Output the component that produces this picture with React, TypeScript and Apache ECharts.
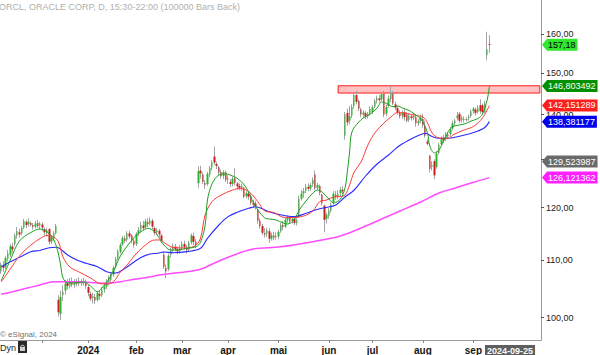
import React, { useEffect, useRef } from "react";
import * as echarts from "echarts";

const TITLE = "ORCL, ORACLE CORP, D, 15:30-22:00 (100000 Bars Back)";
const FIRST_DATE = "2023-11-06";
const HOLIDAYS = ["2023-11-23", "2023-12-25", "2024-01-01", "2024-01-15", "2024-02-19", "2024-03-29", "2024-05-27", "2024-06-19", "2024-07-04", "2024-09-02", "2024-11-28"];
const PAD_BARS = 22;

// [open, close, low, high]
const OHLC: number[][] = [
  [108.0,109.2,107.5,109.6],[109.0,108.6,107.9,109.8],[108.8,110.4,108.4,110.8],[110.3,111.2,109.8,111.9],[111.0,112.6,110.6,113.0],
  [112.5,112.0,111.4,113.2],[113.0,114.6,112.6,115.0],[114.6,115.4,114.0,116.2],[115.2,114.8,114.2,115.9],[115.0,116.0,114.6,116.4],
  [116.1,117.4,115.8,117.8],[117.2,116.6,116.0,117.6],[116.8,117.2,116.3,117.9],[117.0,116.6,116.3,117.3],[116.6,116.2,115.7,117.0],
  [116.3,116.9,115.9,117.4],[117.0,116.4,116.0,117.6],[116.5,116.9,115.8,117.2],
  [116.7,116.1,115.4,117.1],[115.8,115.2,114.6,116.1],[115.0,115.6,114.4,116.0],[115.8,113.4,112.9,116.0],[113.5,114.2,113.0,114.6],
  [114.0,115.0,113.6,115.4],[115.0,116.4,114.8,116.8],[103.0,100.9,100.2,103.8],[100.6,103.5,99.6,104.6],[103.8,104.4,102.8,105.5],
  [104.6,105.8,103.9,106.4],[105.9,105.4,104.8,106.6],[105.4,106.2,105.0,106.8],[106.2,105.6,105.2,106.9],[105.6,106.0,105.1,106.6],
  [106.1,105.8,105.3,106.7],[105.8,106.3,105.4,106.9],[106.2,105.9,105.4,106.6],[105.9,106.1,105.5,106.8],[106.0,105.4,104.9,106.5],
  [105.2,104.2,103.6,105.6],[104.0,103.2,102.8,104.4],[103.3,103.6,102.4,104.2],[103.5,102.9,102.3,104.0],[103.0,104.2,102.7,104.5],
  [104.0,103.7,103.0,104.6],[103.8,104.8,103.5,105.2],[104.8,105.3,104.2,105.8],[105.3,106.1,104.9,106.6],[106.0,106.8,105.5,107.2],
  [106.5,107.4,106.0,107.8],[107.4,108.6,107.0,109.0],[108.8,110.2,108.5,110.6],[110.3,111.6,110.0,112.0],[111.5,112.8,111.2,113.2],
  [112.9,114.1,112.6,114.5],[114.0,113.6,113.2,114.6],[113.8,115.0,113.4,115.4],[115.0,114.4,114.0,115.5],[114.6,113.6,113.1,114.9],
  [113.6,112.8,112.3,114.0],
  [113.0,114.9,112.6,115.2],[115.0,115.6,114.5,116.2],[115.7,116.6,115.2,117.2],[116.5,116.0,115.5,117.4],[116.2,117.3,115.8,117.8],
  [117.2,116.8,116.2,117.9],[116.9,117.5,116.5,118.1],[117.4,116.3,115.8,117.8],[116.0,115.1,114.6,116.3],[115.2,115.6,114.6,116.0],
  [115.5,114.8,114.2,115.8],[114.6,113.6,113.2,114.9],[111.0,108.8,108.4,111.6],[108.6,108.0,106.8,109.2],[108.4,110.8,108.0,111.2],
  [111.0,111.8,110.5,112.3],[111.8,112.6,111.3,113.1],[112.5,112.0,111.6,113.0],[112.0,111.6,111.1,112.5],[111.7,112.3,111.2,112.8],
  [112.4,113.0,111.9,113.5],[113.0,112.4,111.9,113.6],[112.3,111.8,111.2,112.8],[111.9,113.2,111.5,113.6],[113.3,114.6,112.9,115.0],
  [114.5,113.4,112.8,115.1],[113.4,112.8,112.2,113.9],[125.0,127.5,124.0,128.5],[127.6,127.0,125.9,128.6],[126.8,125.2,124.8,127.2],
  [125.0,124.6,123.8,125.6],[124.8,126.9,124.4,127.3],[126.8,128.2,126.2,128.6],[128.3,129.4,127.6,129.8],[130.6,129.3,128.8,132.8],
  [129.0,128.6,127.9,129.5],[128.3,127.2,126.6,128.6],[127.3,126.4,125.9,127.8],[126.5,127.3,125.8,127.7],[127.2,125.6,125.2,127.6],
  [125.8,126.0,124.8,126.6],[125.2,124.8,124.2,125.8],[124.8,125.9,124.3,126.3],[126.0,125.0,124.5,128.1],[124.9,124.3,123.6,125.2],
  [124.4,124.0,123.5,124.9],[124.0,124.4,123.4,124.9],[124.0,122.2,121.9,124.2],[122.3,122.9,121.8,123.3],[122.8,122.2,121.6,123.2],
  [122.4,121.0,120.5,122.8],[121.0,120.6,119.9,121.6],[120.8,120.2,119.6,121.4],[119.6,117.4,116.9,119.8],[117.4,116.4,115.9,117.9],
  [116.4,115.1,114.7,116.8],[115.0,114.8,114.2,116.0],[114.9,115.6,114.3,116.1],[115.4,114.0,113.2,116.0],[114.0,114.6,113.6,115.1],
  [114.6,114.2,113.7,115.3],[114.3,114.5,113.8,115.2],
  [114.4,115.3,113.9,115.7],[115.4,116.6,115.1,117.0],[116.6,116.2,115.6,117.4],[116.3,117.6,116.0,118.0],[117.6,118.1,117.0,118.5],
  [118.0,117.3,116.8,118.3],[117.4,117.8,116.9,118.2],[117.8,117.0,116.6,118.1],[117.0,117.5,116.5,118.0],[118.2,121.8,118.0,122.4],
  [121.8,122.8,121.4,123.6],[122.9,123.3,122.0,124.0],[123.4,124.2,122.9,124.8],[124.2,123.8,123.3,124.9],[123.9,124.6,123.4,125.0],
  [124.8,125.6,124.2,126.2],[126.8,123.9,123.5,127.6],[124.0,124.6,123.5,125.0],[124.4,123.0,122.5,124.7],[122.6,120.9,120.4,122.8],
  [120.4,117.6,115.2,120.6],[117.8,118.6,116.9,119.0],
  [118.4,119.4,117.8,119.9],[119.4,120.6,119.0,121.0],[121.0,122.8,120.6,123.3],[122.6,122.3,121.6,123.4],[122.2,122.8,121.7,123.5],
  [122.9,123.6,122.3,124.2],[123.6,123.3,122.7,124.4],[135.2,140.0,134.3,140.6],[140.4,138.2,137.4,141.4],[138.6,139.6,137.8,142.0],
  [139.8,141.8,139.2,142.4],[142.0,144.6,141.4,145.3],[144.6,143.0,142.4,145.6],[143.2,141.4,140.8,143.6],[141.2,140.0,139.4,141.6],
  [140.0,140.5,139.2,141.0],[140.3,139.6,139.0,140.8],[139.6,140.2,139.1,140.6],[140.2,141.3,139.8,141.9],
  [140.6,141.7,140.1,142.2],[141.9,143.2,141.5,143.7],[143.3,143.9,142.6,144.5],[143.8,143.4,142.8,144.6],[143.6,144.8,143.2,145.3],
  [145.0,140.0,139.4,145.6],[140.2,141.8,139.6,142.4],[142.0,143.8,141.6,144.5],[143.6,145.0,142.9,146.8],[145.0,142.6,142.2,145.6],
  [142.4,141.6,141.0,143.0],[141.5,140.6,140.0,142.0],[140.4,139.6,139.1,141.0],[139.8,140.4,139.0,141.0],[140.6,139.4,138.6,141.2],
  [140.0,138.6,138.2,140.6],[138.8,139.8,138.3,140.3],[139.6,139.2,138.6,140.2],[139.3,139.7,138.7,140.4],[139.4,138.0,137.2,139.7],
  [138.0,138.5,137.4,139.0],[138.6,139.4,138.0,140.0],
  [139.0,137.6,137.0,140.2],[137.4,135.2,134.8,138.6],[133.9,133.4,133.0,134.4],[130.8,128.0,127.2,131.0],[128.4,128.8,127.6,129.6],
  [129.6,126.6,125.8,130.0],[128.4,131.2,128.0,131.8],[131.4,133.2,131.0,133.6],[133.3,134.4,133.0,135.0],[134.6,134.2,133.6,135.4],
  [134.4,135.4,134.0,136.0],[135.4,135.0,134.4,136.0],[135.6,136.6,135.0,137.2],[136.8,138.0,136.4,138.6],[138.0,138.6,137.4,139.0],
  [139.2,139.8,138.6,140.6],[140.2,138.6,138.0,140.6],[138.8,139.2,138.2,139.8],[139.0,138.8,138.2,139.6],[138.8,139.0,138.4,139.4],
  [139.2,139.5,138.6,140.0],[139.6,140.8,139.3,141.2],
  [140.8,141.4,140.2,141.8],[141.2,140.4,139.8,141.6],[140.6,141.6,140.2,142.2],[142.2,140.8,140.2,143.6],[142.2,140.6,140.0,142.6],
  [140.6,142.6,140.2,143.2],[154.5,156.0,153.2,160.6],[157.4,157.18,155.1,159.7],
];

// moving averages: [bar index, value]
const MA_GREEN: number[][] = [[0,106.27],[4,110.03],[8,113.55],[13,115.16],[17,115.83],[20,115.31],[23,113.74],[25,111.13],[26,108.94],[27,106.8],[29,105.92],[31,105.92],[36,106.09],[39,105.39],[42,104.4],[44,105.04],[47,106.62],[50,108.94],[52,110.76],[55,112.61],[58,114.21],[61,115.31],[64,115.96],[67,115.31],[69,114.06],[71,112.8],[74,111.87],[77,111.87],[81,112.19],[85,112.48],[87,113.36],[89,116.6],[90,121.53],[92,124.8],[95,126.67],[98,126.88],[101,126.46],[104,125.63],[107,123.97],[109,121.93],[112,119.53],[115,117.96],[117,117.77],[120,117.57],[123,116.99],[125,116.79],[128,117.77],[130,119.53],[133,121.33],[136,122.95],[138,123.56],[140,123.15],[143,121.73],[145,120.93],[148,121.73],[150,123.97],[151,127.3],[152,131.59],[153,136.02],[156,138.3],[158,139.22],[161,140.14],[164,141.54],[166,142.96],[168,142.65],[171,141.85],[173,142.01],[175,141.54],[178,140.96],[180,140.26],[182,139.52],[184,138.3],[186,135.8],[187,132.91],[189,131.37],[191,132.03],[193,134.01],[195,136.09],[197,137.22],[200,137.61],[203,138.0],[205,138.52],[208,139.1],[210,140.14],[212,143.43],[213,146.80]];
const MA_RED: number[][] = [[0,106.09],[4,108.4],[8,110.76],[13,112.8],[17,114.02],[20,114.59],[23,114.3],[25,113.36],[27,110.58],[30,108.76],[34,107.86],[39,106.8],[43,105.83],[46,105.74],[49,106.15],[52,107.86],[55,109.12],[58,110.76],[63,112.8],[67,113.74],[69,113.74],[72,112.99],[75,112.33],[81,112.24],[85,112.8],[87,114.12],[89,118.55],[92,121.19],[96,122.54],[101,123.56],[104,123.87],[108,123.26],[112,121.19],[115,119.34],[119,119.04],[122,118.25],[124,118.06],[127,118.06],[132,118.35],[136,119.34],[139,121.23],[142,121.53],[145,122.14],[148,122.24],[150,122.54],[152,124.59],[154,127.3],[157,129.43],[160,133.13],[163,135.8],[167,138.07],[170,139.45],[173,140.49],[177,140.26],[181,139.79],[184,139.45],[186,138.07],[188,135.8],[191,134.68],[195,134.57],[197,135.35],[202,136.48],[206,137.27],[210,139.22],[213,142.15]];
const MA_BLUE: number[][] = [[0,108.82],[4,109.72],[8,110.51],[13,111.56],[17,111.78],[21,112.3],[24,112.39],[29,110.95],[33,110.03],[37,109.43],[42,108.82],[46,107.92],[50,107.69],[54,108.53],[58,109.67],[61,110.49],[65,111.13],[68,111.26],[71,111.5],[75,111.37],[81,111.56],[87,112.19],[90,114.06],[95,116.6],[99,118.22],[103,119.08],[108,119.87],[111,120.19],[115,119.53],[119,118.88],[124,118.41],[128,118.22],[133,118.88],[137,119.53],[141,119.99],[146,120.53],[150,122.14],[154,123.56],[159,126.46],[164,129.0],[169,130.94],[173,132.69],[178,134.23],[182,135.24],[185,135.73],[188,135.01],[191,134.61],[195,134.61],[199,134.97],[204,135.57],[208,136.25],[211,137.04],[213,138.38]];
const MA_MAGENTA: number[][] = [[0,103.95],[5,104.4],[11,104.99],[17,105.57],[23,106.15],[29,106.15],[34,106.15],[40,105.97],[46,105.87],[52,106.15],[58,106.57],[64,106.92],[69,107.33],[75,107.63],[81,107.92],[87,108.35],[95,109.85],[104,111.32],[110,112.06],[122,112.48],[136,113.42],[148,114.49],[157,116.02],[165,117.57],[174,119.34],[183,121.13],[191,122.95],[198,123.97],[205,125.0],[213,126.12]];

const Y_TICKS = [100, 110, 120, 130, 140, 150, 160];
const Y_MIN = 96.37;
const Y_MAX = 169.28;
const MONTH_LABELS = ["2024", "feb", "mar", "apr", "mai", "jun", "jul", "aug", "sep", "okt", "nov", "des"];

const TAGS = [
  { value: 157.18, text: "157,18", bg: "#2fe82f", fg: "#000000" },
  { value: 146.803492, text: "146,803492", bg: "#009000", fg: "#ffffff" },
  { value: 142.151289, text: "142,151289", bg: "#ff1e1e", fg: "#ffffff" },
  { value: 138.381177, text: "138,381177", bg: "#0000f0", fg: "#ffffff" },
  { value: 129.523987, text: "129,523987", bg: "#6a6a6a", fg: "#ffffff" },
  { value: 126.121362, text: "126,121362", bg: "#ff20ff", fg: "#ffffff" },
];

const BAND_FROM = 147;
const BAND_LOW = 145.1;
const BAND_HIGH = 146.85;
const CURSOR_DATE = "2024-09-25";

const W = 600;
const H = 355;
const GRID_RIGHT = 59;
const GRID_BOTTOM = 15;

function tradingDays(start: string, count: number, hol: string[]): string[] {
  const out: string[] = [];
  const d = new Date(start + "T00:00:00Z");
  while (out.length < count) {
    const wd = d.getUTCDay();
    const s = d.toISOString().slice(0, 10);
    if (wd !== 0 && wd !== 6 && !hol.includes(s)) out.push(s);
    d.setUTCDate(d.getUTCDate() + 1);
  }
  return out;
}

export default function App() {
  const ref = useRef<HTMLDivElement>(null);

  useEffect(() => {
    if (!ref.current) return;
    const chart = echarts.init(ref.current, null, { renderer: "svg" });
    const L = Math.log;
    const nBars = OHLC.length;
    const cats = tradingDays(FIRST_DATE, nBars + PAD_BARS, HOLIDAYS);
    const monthStart = new Set<number>();
    for (let i = 1; i < nBars; i++) {
      if (cats[i].slice(5, 7) !== cats[i - 1].slice(5, 7)) monthStart.add(i);
    }
    const showLabel = (i: number) => monthStart.has(i) && cats[i].slice(5, 7) !== "12";

    const wickData = OHLC.map(([o, c, l, h]) => [L(o), L(c), L(l), L(h)]);
    const bodyData = OHLC.map(([o, c]) => [L(o), L(c), L(Math.min(o, c)), L(Math.max(o, c))]);
    const toLine = (arr: number[][]) => arr.map(([i, v]) => [i, L(v)]);

    const lineSeries = (name: string, data: number[][], color: string, width: number) => ({
      name,
      type: "line",
      data: toLine(data),
      showSymbol: false,
      symbol: "none",
      smooth: 0.35,
      lineStyle: { color, width },
      z: 4,
      silent: true,
    });

    const option: any = {
      animation: false,
      backgroundColor: "#ffffff",
      grid: { left: 0, right: GRID_RIGHT, top: 0, bottom: GRID_BOTTOM },
      xAxis: {
        type: "category",
        data: cats,
        boundaryGap: true,
        axisLine: { show: true, lineStyle: { color: "#9a9a9a", width: 1 } },
        axisTick: {
          show: true,
          length: 3,
          alignWithLabel: true,
          interval: (i: number) => monthStart.has(i),
          lineStyle: { color: "#8a8a8a" },
        },
        axisLabel: {
          interval: (i: number) => showLabel(i),
          formatter: (v: string) => {
            const m = +v.slice(5, 7);
            return m === 1 ? v.slice(0, 4) : MONTH_LABELS[m - 1];
          },
          color: "#151515",
          fontWeight: "bold",
          fontSize: 10,
          fontFamily: "Arial, 'Liberation Sans', sans-serif",
          margin: 5,
        },
        splitLine: { show: false },
      },
      yAxis: {
        type: "value",
        position: "right",
        min: L(Y_MIN),
        max: L(Y_MAX),
        scale: true,
        axisLine: { show: true, lineStyle: { color: "#9a9a9a", width: 1 } },
        axisTick: { show: true, length: 3, customValues: Y_TICKS.map(L), lineStyle: { color: "#555" } },
        axisLabel: {
          customValues: Y_TICKS.map(L),
          formatter: (v: number) => Math.exp(v).toFixed(2).replace(".", ","),
          color: "#222",
          fontSize: 9,
          fontFamily: "Arial, 'Liberation Sans', sans-serif",
          margin: 5,
        },
        splitLine: { show: false },
      },
      series: [
        {
          name: "wick",
          type: "candlestick",
          data: wickData,
          barWidth: 1,
          z: 2,
          silent: true,
          itemStyle: {
            color: "#a3a3a3",
            color0: "#a3a3a3",
            borderColor: "#a3a3a3",
            borderColor0: "#a3a3a3",
            borderColorDoji: "#a3a3a3",
            borderWidth: 1,
          },
          markArea: {
            silent: true,
            itemStyle: { color: "rgba(255,120,120,0.45)", borderColor: "#ff1a1a", borderWidth: 1 },
            data: [[{ xAxis: BAND_FROM, yAxis: L(BAND_LOW) }, { xAxis: cats.length - 1, yAxis: L(BAND_HIGH) }]],
          },
        },
        {
          name: "body",
          type: "candlestick",
          data: bodyData,
          barWidth: 2,
          z: 3,
          silent: true,
          itemStyle: {
            color: "#2db42d",
            color0: "#c81e1e",
            borderColor: "#2db42d",
            borderColor0: "#c81e1e",
            borderColorDoji: "#8a8a8a",
            borderWidth: 0,
          },
        },
        lineSeries("MA200", MA_MAGENTA, "#ff4cff", 1.5),
        lineSeries("MA50", MA_BLUE, "#2a2aff", 1.1),
        lineSeries("MA20", MA_RED, "#ff3a3a", 1),
        lineSeries("MA5", MA_GREEN, "#1f9f1f", 1),
      ],
    };
    chart.setOption(option);

    const axisX = W - GRID_RIGHT;
    const font = "9px Arial, 'Liberation Sans', sans-serif";
    const tagEls: any[] = [];
    TAGS.forEach((t) => {
      const p = chart.convertToPixel({ gridIndex: 0 } as any, [0, L(t.value)]) as number[];
      const py = p[1];
      tagEls.push({
        type: "polygon",
        shape: { points: [[axisX + 1, py], [axisX + 6, py - 6], [axisX + 6, py + 6]] },
        style: { fill: t.bg },
        z: 100,
      });
      tagEls.push({
        type: "text",
        x: axisX + 6,
        y: py,
        z: 101,
        style: {
          text: t.text,
          font,
          fill: t.fg,
          verticalAlign: "middle",
          backgroundColor: t.bg,
          padding: [1, 2, 1, 1],
          lineHeight: 10,
        },
      });
    });

    const staticEls: any[] = [
      {
        type: "text",
        x: -1,
        y: 2,
        style: { text: TITLE, font, fill: "#b0b0b0", verticalAlign: "top" },
      },
      {
        type: "text",
        x: 0,
        y: 330,
        style: { text: "© eSignal, 2024", font: "8px Arial, 'Liberation Sans', sans-serif", fill: "#707070", verticalAlign: "top" },
      },
      {
        type: "text",
        x: 0,
        y: 343,
        z: 50,
        style: { text: "Dyn", font: "9px Arial, 'Liberation Sans', sans-serif", fill: "#222", verticalAlign: "top" },
      },
      { type: "rect", shape: { x: 18, y: 341, width: 9, height: 12 }, style: { fill: "#2a2a2a" }, z: 50 },
      { type: "rect", shape: { x: 20, y: 347, width: 5, height: 4 }, style: { fill: "#d0d0d0" }, z: 51 },
      {
        type: "arc",
        shape: { cx: 22.5, cy: 347, r: 1.8, startAngle: Math.PI, endAngle: 2 * Math.PI },
        style: { stroke: "#d0d0d0", lineWidth: 1, fill: "none" },
        z: 51,
      },
      {
        type: "text",
        x: 485,
        y: 345,
        z: 60,
        style: {
          text: CURSOR_DATE,
          font: "bold 9px Arial, 'Liberation Sans', sans-serif",
          fill: "#ffffff",
          verticalAlign: "top",
          backgroundColor: "#5e5e5e",
          padding: [1, 2, 0, 2],
        },
      },
    ];

    chart.setOption({ graphic: [...staticEls, ...tagEls] });

    return () => chart.dispose();
  }, []);

  return (
    <div
      ref={ref}
      style={{ position: "absolute", left: 0, top: 0, width: W, height: H, background: "#fff" }}
    />
  );
}
